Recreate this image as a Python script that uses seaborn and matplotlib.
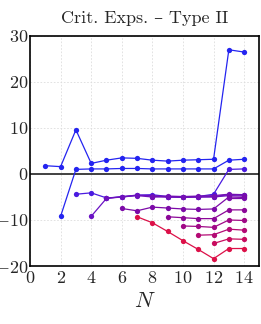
import numpy as np
import pandas as pd
import matplotlib
matplotlib.use("Agg")
import matplotlib.pyplot as plt
import seaborn as sns

nan = np.nan
N = list(range(1, 15))

# critical exponents, one branch per list (nan = branch not present yet)
b1 = [1.8, 1.6, 9.6, 2.3, 3.0, 3.5, 3.4, 3.0, 2.8, 3.0, 3.1, 3.2, 27.0, 26.5]
b2 = [nan, -9.2, 1.0, 1.1, 1.1, 1.2, 1.2, 1.1, 1.1, 1.1, 1.1, 1.1, 3.0, 3.2]
b3 = [nan, nan, -4.4, -4.1, -5.2, -5.0, -4.6, -4.5, -4.9, -5.0, -4.9, -4.4, 1.0, 1.1]
b4 = [nan, nan, nan, -9.2, -5.3, -4.9, -4.6, -4.7, -5.0, -5.0, -5.0, -4.9, -4.5, -4.6]
b5 = [nan, nan, nan, nan, -5.3, -5.0, -4.7, -5.0, -5.0, -5.1, -5.0, -5.0, -4.7, -4.8]
b6 = [nan, nan, nan, nan, nan, nan, nan, -4.9, -4.8, -4.9, -4.8, -4.7, -4.4, -4.5]
b7 = [nan, nan, nan, nan, nan, -7.5, -8.0, -7.2, -7.4, -7.6, -7.7, -7.6, -5.0, -5.1]
b8 = [nan, nan, nan, nan, nan, nan, nan, nan, nan, nan, nan, nan, -5.2, -5.2]
b9 = [nan, nan, nan, nan, nan, nan, nan, nan, -9.3, -9.5, -9.7, -9.7, -7.8, -7.8]
b10 = [nan, nan, nan, nan, nan, nan, nan, nan, nan, -11.3, -11.4, -11.6, -10.0, -10.1]
b11 = [nan, nan, nan, nan, nan, nan, nan, nan, nan, nan, -13.3, -13.2, -12.0, -12.2]
b12 = [nan, nan, nan, nan, nan, nan, nan, nan, nan, nan, nan, -15.1, -14.1, -14.2]
b13 = [nan, nan, nan, nan, nan, nan, -9.3, -10.6, -12.5, -14.5, -16.4, -18.4, -16.2, -16.2]

branches = [b1, b2, b3, b4, b5, b6, b7, b8, b9, b10, b11, b12, b13]
colors = ['#2424f0', '#2424f0', '#4a1ae0', '#6a12c4', '#6e10bc', '#7410b4', '#7c0aa8',
          '#7a0cac', '#8c0898', '#a00886', '#b40a74', '#c80c5e', '#dc1048']

rows = []
for k, vals in enumerate(branches):
    for n, v in zip(N, vals):
        if not np.isnan(v):
            rows.append({'N': n, 'exp': v, 'branch': k})
df = pd.DataFrame(rows)

sns.set_style('white')
plt.rcParams['font.family'] = ['cmr10', 'DejaVu Serif']
plt.rcParams['mathtext.fontset'] = 'cm'
plt.rcParams['axes.unicode_minus'] = False
plt.rcParams['axes.formatter.use_mathtext'] = True

fig = plt.figure(figsize=(2.61, 3.24), dpi=100)
ax = fig.add_axes([0.115, 0.179, 0.879, 0.71])

ax.grid(True, color='#dddddd', linestyle=(0, (2, 2)), linewidth=0.6)
ax.axhline(0, color='#333333', lw=1.3, zorder=1)

sns.lineplot(data=df, x='N', y='exp', hue='branch', palette=dict(enumerate(colors)),
             estimator=None, sort=False, marker='o', markersize=3.8, markeredgewidth=0,
             linewidth=0.9, legend=False, ax=ax)

ax.set_xlim(0, 15)
ax.set_ylim(-20, 30)
ax.set_xticks(range(0, 15, 2))
ax.set_yticks([-20, -10, 0, 10, 20, 30])
ax.tick_params(axis='y', length=0, labelsize=13, pad=1)
ax.tick_params(axis='x', length=0, labelsize=13, pad=3)
ax.set_xlabel('$N$', fontsize=16, labelpad=4)
ax.set_ylabel('')
ax.set_title('Crit. Exps. \u2013 Type II', fontsize=13, pad=9)
for s in ax.spines.values():
    s.set_color('black')
    s.set_linewidth(1.2)

fig.savefig('out.png', dpi=100)
